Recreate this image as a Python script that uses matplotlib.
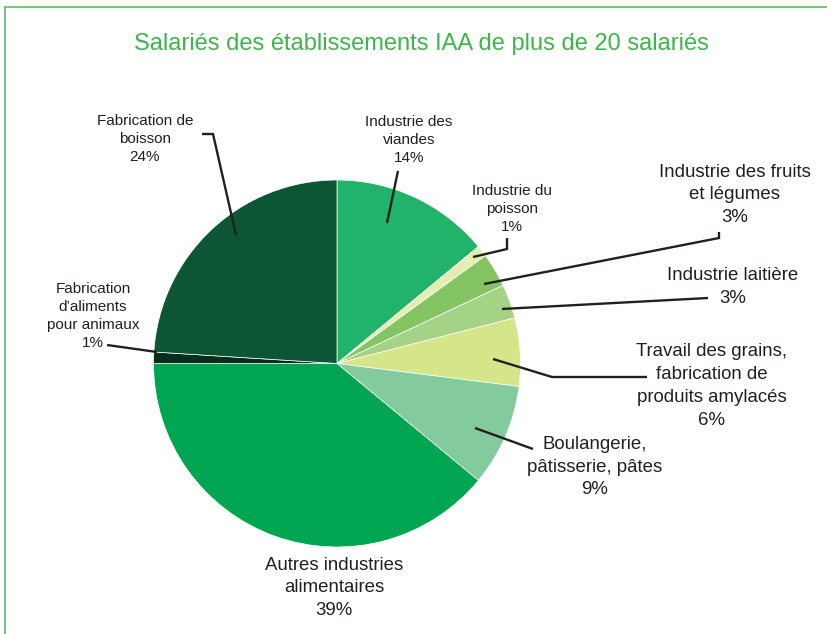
import matplotlib.pyplot as plt

plt.rcParams['font.family'] = ['Liberation Sans', 'DejaVu Sans']

W, H = 828, 634

# data
sectors = ["Industrie des viandes", "Industrie du poisson", "Industrie des fruits et légumes",
           "Industrie laitière", "Travail des grains, fabrication de produits amylacés",
           "Boulangerie, pâtisserie, pâtes", "Autres industries alimentaires",
           "Fabrication d'aliments pour animaux", "Fabrication de boisson"]
shares = [14, 1, 3, 3, 6, 9, 39, 1, 24]
colors = ['#22b36b', '#e4efae', '#84c563', '#a5d386', '#d5e589',
          '#83ca9d', '#00a551', '#022f19', '#0c5535']
label_text = ["Industrie des\nviandes", "Industrie du\npoisson", "Industrie des fruits\net légumes",
              "Industrie laitière", "Travail des grains,\nfabrication de\nproduits amylacés",
              "Boulangerie,\npâtisserie, pâtes", "Autres industries\nalimentaires",
              "Fabrication\nd\u2019aliments\npour animaux", "Fabrication de\nboisson"]

# layout (image pixel coords): label centre, font size, leader polyline
label_pos = [(409, 140), (512, 209), (735, 195), (733, 287), (712, 386),
             (595, 467), (334, 588), (93, 316), (145, 139)]
label_size = [11, 11, 13.4, 13.4, 13.4, 13.4, 13.4, 11, 11]
leaders = [
    [(398, 171), (387, 223)],
    [(507, 238), (507, 249), (473, 257)],
    [(719, 232), (719, 238), (484, 284)],
    [(708, 298), (502, 309)],
    [(647, 377), (552, 377), (493, 359)],
    [(533, 449), (475, 428)],
    None,
    [(107, 345), (157, 352)],
    [(202, 134), (213, 134), (236, 235)],
]

fig = plt.figure(figsize=(W / 100, H / 100), dpi=100)
ax = fig.add_axes([0, 0, 1, 1])

ax.pie(shares, colors=colors, startangle=90, counterclock=False,
       center=(337, H - 363.5), radius=183.5,
       wedgeprops=dict(linewidth=0.5, edgecolor='white'))
ax.set_xlim(0, W)
ax.set_ylim(0, H)
ax.axis('off')

ink = '#231f20'
for txt, share, (x, y), fs, ld in zip(label_text, shares, label_pos, label_size, leaders):
    ax.text(x, H - y, f"{txt}\n{share}%", ha='center', va='center', fontsize=fs,
            color=ink, linespacing=1.38 if fs < 12 else 1.44)
    if ld:
        ax.plot([p[0] for p in ld], [H - p[1] for p in ld], color=ink,
                lw=1.7, solid_capstyle='butt', solid_joinstyle='miter')

ax.text(421, H - 44, "Salariés des établissements IAA de plus de 20 salariés",
        ha='center', va='center', fontsize=17, color='#3db54a')

# green frame
frame = '#6cc06c'
ax.plot([5, 5], [-5, H - 7], color=frame, lw=1.3, clip_on=False)
ax.plot([5, W + 5], [H - 7, H - 7], color=frame, lw=1.3, clip_on=False)

fig.savefig('out.png', dpi=100)
